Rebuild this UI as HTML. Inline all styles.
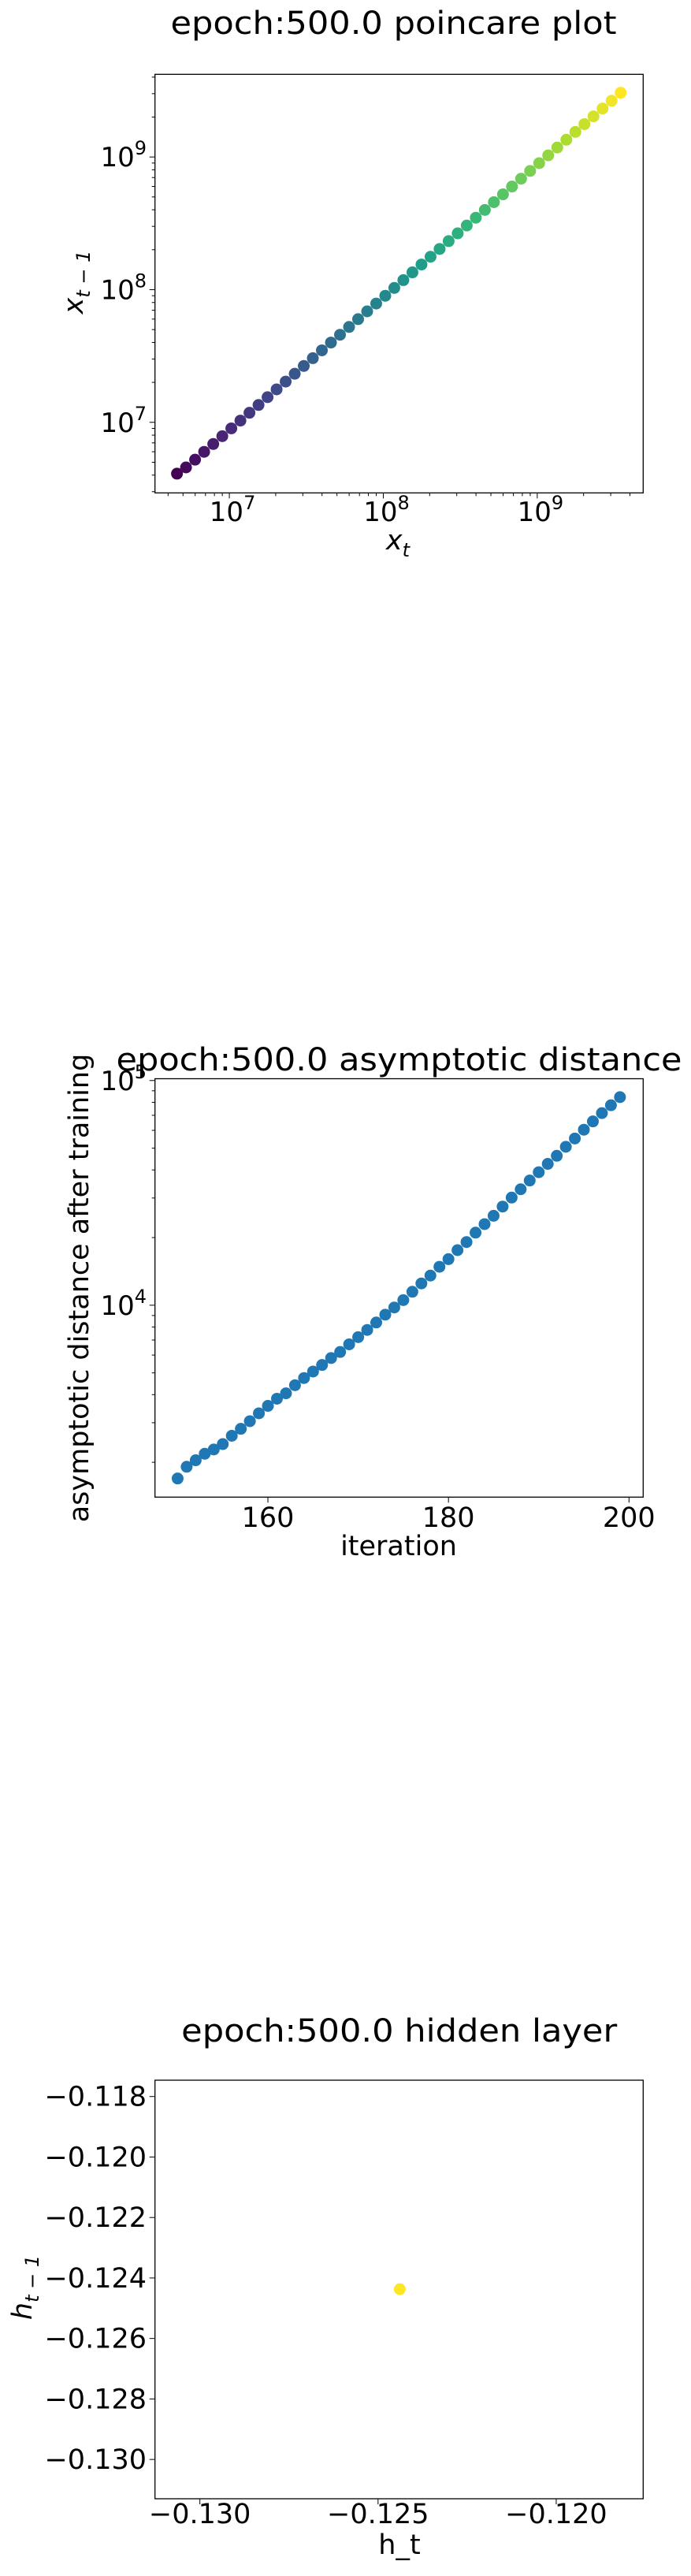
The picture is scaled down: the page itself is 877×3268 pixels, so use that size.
<!DOCTYPE html>
<html><head><meta charset="utf-8"><style>
html,body{margin:0;padding:0;background:#fff;}
svg{display:block;font-family:"DejaVu Sans","Liberation Sans",sans-serif;}
</style></head><body>
<svg id="fig" width="877" height="3268" viewBox="0 0 877 3268" xmlns="http://www.w3.org/2000/svg"></svg>
<script>
// ---- Chart 1: poincare plot data (log-log) ----
const poincareX = [4.57e6,5.23e6,5.99e6,6.86e6,7.86e6,9.00e6,1.030e7,1.180e7,1.351e7,1.547e7,1.771e7,2.028e7,2.322e7,2.659e7,3.044e7,3.486e7,3.991e7,4.570e7,5.233e7,5.992e7,6.860e7,7.855e7,8.994e7,1.030e8,1.179e8,1.350e8,1.546e8,1.770e8,2.027e8,2.321e8,2.657e8,3.043e8,3.484e8,3.989e8,4.567e8,5.230e8,5.988e8,6.856e8,7.850e8,8.988e8,1.029e9,1.178e9,1.349e9,1.545e9,1.769e9,2.025e9,2.319e9,2.655e9,3.040e9,3.481e9];
const poincareY = [4.10e6,4.57e6,5.23e6,5.99e6,6.86e6,7.86e6,9.00e6,1.030e7,1.180e7,1.351e7,1.547e7,1.771e7,2.028e7,2.322e7,2.659e7,3.044e7,3.486e7,3.991e7,4.570e7,5.233e7,5.992e7,6.860e7,7.855e7,8.994e7,1.030e8,1.179e8,1.350e8,1.546e8,1.770e8,2.027e8,2.321e8,2.657e8,3.043e8,3.484e8,3.989e8,4.567e8,5.230e8,5.988e8,6.856e8,7.850e8,8.988e8,1.029e9,1.178e9,1.349e9,1.545e9,1.769e9,2.025e9,2.319e9,2.655e9,3.050e9];
const poincareXTicks = [7,8,9];
const poincareYTicks = [7,8,9];
// ---- Chart 2: asymptotic distance ----
const iterations = [150,151,152,153,154,155,156,157,158,159,160,161,162,163,164,165,166,167,168,169,170,171,172,173,174,175,176,177,178,179,180,181,182,183,184,185,186,187,188,189,190,191,192,193,194,195,196,197,198,199];
const distances = [1694,1910,2042,2183,2280,2410,2624,2818,3048,3304,3565,3837,4055,4406,4742,5070,5420,5821,6194,6699,7211,7762,8375,9078,9772,10540,11480,12500,13550,14830,16030,17580,19100,21040,22960,25000,27480,30130,32810,35890,39080,42560,46240,50700,55210,60390,65770,71610,77620,84330];
const iterTicks = [160,180,200];
const distYTicks = [4,5];
// ---- Chart 3: hidden layer ----
const hiddenX = [-0.12439];
const hiddenY = [-0.12437];
const hiddenXTicks = ["-0.130","-0.125","-0.120"];
const hiddenYTicks = ["-0.118","-0.120","-0.122","-0.124","-0.126","-0.128","-0.130"];

const svg = document.getElementById('fig');
const NS = 'http://www.w3.org/2000/svg';
function mk(tag, attrs, parent){const e=document.createElementNS(NS,tag);for(const k in attrs)e.setAttribute(k,attrs[k]);(parent||svg).appendChild(e);return e;}
function txt(str, attrs, parent){const e=mk('text',attrs,parent);e.textContent=str;return e;}

const viridis=[[68,1,84],[72,40,120],[62,74,137],[49,104,142],[38,130,142],[31,158,137],[53,183,121],[109,205,89],[180,222,44],[253,231,37]];
function vir(t){const s=t*(viridis.length-1);const i=Math.min(Math.floor(s),viridis.length-2);const f=s-i;const a=viridis[i],b=viridis[i+1];return 'rgb('+a.map((v,k)=>Math.round(v+(b[k]-v)*f)).join(',')+')';}

const L=196.7,R=816.3;
function frame(g,top,bot){mk('rect',{x:L,y:top,width:R-L,height:bot-top,fill:'none',stroke:'#000','stroke-width':1.3},g);}
function supText(g,x,y,base,exp,anchor){const t=mk('text',{x:x,y:y,'font-size':34,'text-anchor':anchor},g);t.textContent=base;const s=document.createElementNS(NS,'tspan');s.setAttribute('dy','-15');s.setAttribute('font-size','24');s.textContent=exp;t.appendChild(s);return t;}

// ===== Chart 1 =====
(function(){
const g=mk('g',{});


const top=94.3,bot=625.3;
const xmin=6.517,xmax=9.688,ymin=6.468,ymax=9.623;
const sx=v=>L+(Math.log10(v)-xmin)/(xmax-xmin)*(R-L);
const sy=v=>bot-(Math.log10(v)-ymin)/(ymax-ymin)*(bot-top);
const t=txt('epoch:500.0 poincare plot',{x:499.5,y:43,'font-size':40,'text-anchor':'middle',textLength:566,lengthAdjust:'spacingAndGlyphs'},g);


for(let d=6;d<=9;d++)for(let m=1;m<10;m++){const v=m*Math.pow(10,d);const lv=Math.log10(v);
 if(lv>=xmin&&lv<=xmax){const x=sx(v);mk('line',{x1:x,x2:x,y1:bot,y2:bot+(m===1?7:4),stroke:'#000','stroke-width':1},g);}
 if(lv>=ymin&&lv<=ymax){const y=sy(v);mk('line',{x1:L,x2:L-(m===1?7:4),y1:y,y2:y,stroke:'#000','stroke-width':1},g);}}
poincareXTicks.forEach(d=>{const e=supText(g,sx(Math.pow(10,d))+4,661,'10',String(d),'middle');
 
 });
poincareYTicks.forEach(d=>{const e=supText(g,186,sy(Math.pow(10,d))+12,'10',String(d),'end');
 
 });
const n=poincareX.length;
poincareX.forEach((v,i)=>{const c=mk('circle',{cx:sx(v),cy:sy(poincareY[i]),r:7.5,fill:vir(i/(n-1))},g);
 
 });
frame(g,top,bot);
const xl=mk('text',{x:505,y:697,'font-size':35,'text-anchor':'middle','font-style':'italic'},g);xl.textContent='x';
const xs=document.createElementNS(NS,'tspan');xs.setAttribute('dy','9');xs.setAttribute('font-size','24');xs.textContent='t';xl.appendChild(xs);


const yl=mk('text',{x:0,y:0,'font-size':35,'text-anchor':'middle','font-style':'italic',transform:'translate(105,358) rotate(-90)'},g);yl.textContent='x';
const ys=document.createElementNS(NS,'tspan');ys.setAttribute('dy','9');ys.setAttribute('font-size','24');ys.textContent='t − 1';yl.appendChild(ys);


})();

// ===== Chart 2 =====
(function(){
const g=mk('g',{});


const top=1368.5,bot=1899.3;
const xmin=147.49,xmax=201.57,ymin=3.146,ymax=5.008;
const sx=v=>L+(v-xmin)/(xmax-xmin)*(R-L);
const sy=v=>bot-(Math.log10(v)-ymin)/(ymax-ymin)*(bot-top);
for(let d=3;d<=5;d++)for(let m=1;m<10;m++){const v=m*Math.pow(10,d);const lv=Math.log10(v);
 if(lv>=ymin&&lv<=ymax+0.001){const y=sy(v);mk('line',{x1:L,x2:L-(m===1?7:4),y1:y,y2:y,stroke:'#000','stroke-width':1},g);}}
iterTicks.forEach(v=>{const x=sx(v);mk('line',{x1:x,x2:x,y1:bot,y2:bot+7,stroke:'#000','stroke-width':1},g);
 const e=txt(String(v),{x:x,y:1937,'font-size':35,'text-anchor':'middle'},g);
 
 });
distYTicks.forEach(d=>{const e=supText(g,186,sy(Math.pow(10,d))+12,'10',String(d),'end');
 
 });
iterations.forEach((v,i)=>{const c=mk('circle',{cx:sx(v),cy:sy(distances[i]),r:7.5,fill:'#1f77b4'},g);
 
 });
frame(g,top,bot);
const t=txt('epoch:500.0 asymptotic distance',{x:506.5,y:1358,'font-size':40,'text-anchor':'middle',textLength:718,lengthAdjust:'spacingAndGlyphs'},g);


const xl=txt('iteration',{x:506,y:1973,'font-size':35,'text-anchor':'middle'},g);


const yl=txt('asymptotic distance after training',{x:0,y:0,'font-size':35,'text-anchor':'middle',transform:'translate(112,1634) rotate(-90)'},g);


})();

// ===== Chart 3 =====
(function(){
const g=mk('g',{});


const top=2639,bot=3170;
const xmin=-0.13126,xmax=-0.11756,ymin=-0.1313,ymax=-0.11746;
const sx=v=>L+(v-xmin)/(xmax-xmin)*(R-L);
const sy=v=>bot-(v-ymin)/(ymax-ymin)*(bot-top);
const t=txt('epoch:500.0 hidden layer',{x:506.7,y:2590,'font-size':40,'text-anchor':'middle',textLength:553,lengthAdjust:'spacingAndGlyphs'},g);


hiddenXTicks.forEach(s=>{const x=sx(parseFloat(s));mk('line',{x1:x,x2:x,y1:bot,y2:bot+7,stroke:'#000','stroke-width':1},g);
 const e=txt(s.replace('-','−'),{x:x,y:3201,'font-size':35,'text-anchor':'middle'},g);
 
 });
hiddenYTicks.forEach(s=>{const y=sy(parseFloat(s));mk('line',{x1:L,x2:L-7,y1:y,y2:y,stroke:'#000','stroke-width':1},g);
 const e=txt(s.replace('-','−'),{x:186,y:y+12,'font-size':35,'text-anchor':'end'},g);
 
 });
hiddenX.forEach((v,i)=>{const c=mk('circle',{cx:sx(v),cy:sy(hiddenY[i]),r:7.5,fill:'#fde725'},g);
 
 });
frame(g,top,bot);
const xl=txt('h_t',{x:507,y:3240,'font-size':35,'text-anchor':'middle'},g);


const yl=mk('text',{x:0,y:0,'font-size':35,'text-anchor':'middle','font-style':'italic',transform:'translate(40,2902) rotate(-90)'},g);yl.textContent='h';
const ys=document.createElementNS(NS,'tspan');ys.setAttribute('dy','9');ys.setAttribute('font-size','24');ys.textContent='t − 1';yl.appendChild(ys);


})();
</script>
</body></html>
